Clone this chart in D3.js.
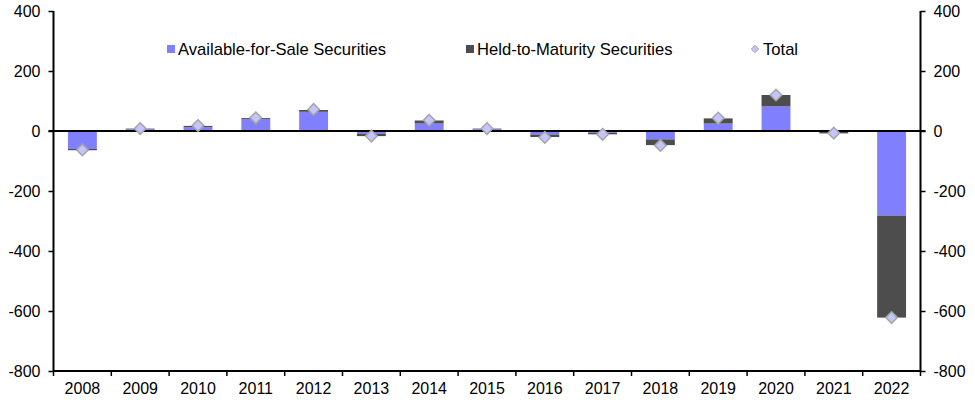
<!DOCTYPE html>
<html><head><meta charset="utf-8">
<script src="https://cdn.jsdelivr.net/npm/d3@7"></script>
<style>body{margin:0;background:#fff}svg{display:block}text{font-family:"Liberation Sans",Arial,sans-serif}</style>
</head><body><svg id="c" width="975" height="403"></svg>
<script>
const years = ["2008","2009","2010","2011","2012","2013","2014","2015","2016","2017","2018","2019","2020","2021","2022"];
const afs = [-60, 6, 13, 40, 64, -9, 25, 6, -12, -6, -28, 25, 82, -1, -282];
const htm = [-4, 2, 4, 3, 6, -8, 10, 2, -8, -5, -19, 17, 38, -7, -340];
const total = [-63, 8, 18, 44, 72, -17, 36, 8, -21, -11, -48, 43, 120, -7, -622];
const yTicks = [400, 200, 0, -200, -400, -600, -800];
const seriesNames = ["Available-for-Sale Securities", "Held-to-Maturity Securities", "Total"];
const colors = ["#8080ff", "#4d4d4d"];

const svg = d3.select("#c");
const L = 53.5, R = 920.5, T = 11, B = 371;
const x = d3.scaleBand().domain(years).range([L, R]).paddingInner(0.5).paddingOuter(0.25);
const y = d3.scaleLinear().domain([-800, 400]).range([B, T]);

const rows = years.map((yr, i) => ({year: yr, afs: afs[i], htm: htm[i]}));
const stack = d3.stack().keys(["afs", "htm"]).offset(d3.stackOffsetDiverging);
const layers = stack(rows);

layers.forEach((layer, k) => {
  svg.append("g").selectAll("rect").data(layer).join("rect")
    .attr("x", d => x(d.data.year))
    .attr("width", x.bandwidth())
    .attr("y", d => y(Math.max(d[0], d[1])))
    .attr("height", d => Math.abs(y(d[0]) - y(d[1])))
    .attr("fill", colors[k]);
});

// zero line
svg.append("line").attr("x1", L - 5).attr("x2", R + 5).attr("y1", y(0)).attr("y2", y(0))
  .attr("stroke", "#000").attr("stroke-width", 2);

// diamonds
const diamond = d3.symbol().type(d3.symbolDiamond2).size(85);
svg.append("g").selectAll("path").data(total).join("path")
  .attr("transform", (d, i) => `translate(${x(years[i]) + x.bandwidth() / 2},${y(d)})`)
  .attr("d", diamond)
  .attr("fill", "#c4c4ff").attr("stroke", "#a6a6a6").attr("stroke-width", 1.5);

// axes
const fmt = d => String(d);
const yl = svg.append("g").attr("transform", `translate(${L},0)`)
  .call(d3.axisLeft(y).tickValues(yTicks).tickFormat(fmt).tickSize(5).tickPadding(8));
const yr = svg.append("g").attr("transform", `translate(${R},0)`)
  .call(d3.axisRight(y).tickValues(yTicks).tickFormat(fmt).tickSize(5).tickPadding(8));
const xPos = d3.scaleLinear().domain([0, years.length]).range([L, R]);
const xa = svg.append("g").attr("transform", `translate(0,${B})`);
xa.append("line").attr("x1", L).attr("x2", R).attr("stroke", "#000").attr("stroke-width", 2);
xa.selectAll("line.t").data(d3.range(years.length + 1)).join("line").attr("class", "t")
  .attr("x1", d => xPos(d)).attr("x2", d => xPos(d)).attr("y1", 0).attr("y2", 5)
  .attr("stroke", "#000").attr("stroke-width", 1.5);
xa.selectAll("text").data(years).join("text")
  .attr("x", d => x(d) + x.bandwidth() / 2).attr("y", 23)
  .attr("text-anchor", "middle").attr("font-size", 16).attr("fill", "#000").text(d => d);

[yl, yr].forEach(g => {
  g.select(".domain").attr("stroke-width", 2).attr("d", `M0,${T}V${B}`);
  g.selectAll(".tick line").attr("stroke-width", 1.5);
  g.selectAll(".tick text").attr("font-size", 16).attr("fill", "#000");
});

// legend
const lg = svg.append("g").attr("font-size", 16.6);
const lx = [167, 466, 755];
lg.append("rect").attr("x", lx[0]).attr("y", 45).attr("width", 8).attr("height", 8).attr("fill", colors[0]);
lg.append("rect").attr("x", lx[1]).attr("y", 45).attr("width", 8).attr("height", 8).attr("fill", colors[1]);
lg.append("path").attr("d", d3.symbol().type(d3.symbolDiamond2).size(35)).attr("transform", `translate(${lx[2]},49)`)
  .attr("fill", "#c4c4ff").attr("stroke", "#a6a6a6").attr("stroke-width", 1);
lg.selectAll("text").data(seriesNames).join("text")
  .attr("x", (d, i) => i < 2 ? lx[i] + 11 : lx[i] + 8).attr("y", 55).attr("fill", "#000").text(d => d);
</script></body></html>
